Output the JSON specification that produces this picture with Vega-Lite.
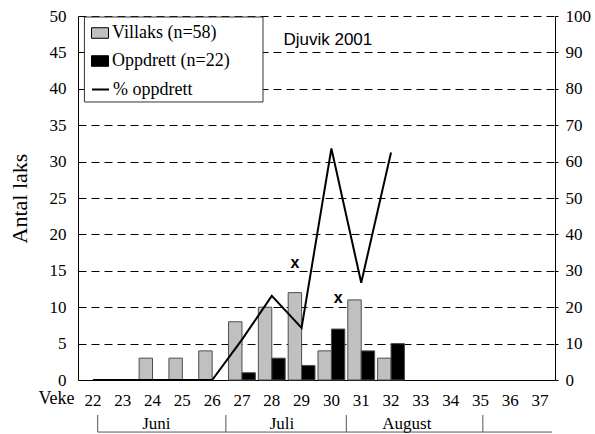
{
  "$schema": "https://vega.github.io/schema/vega-lite/v6.json",
  "width": 477,
  "height": 364,
  "autosize": {"type": "none"},
  "padding": {"left": 78, "top": 16, "right": 40, "bottom": 54},
  "background": "white",
  "config": {
    "font": "Liberation Serif",
    "view": {"stroke": null},
    "axis": {"labelColor": "black", "titleColor": "black", "domainColor": "black", "tickColor": "black", "titleFontWeight": "normal", "labelFont": "Liberation Serif", "titleFont": "Liberation Serif"},
    "legend": {"labelFont": "Liberation Serif", "titleFont": "Liberation Serif", "labelColor": "black", "labelFontSize": 18}
  },
  "datasets": {
    "counts": [
      {"week": 24, "series": "Villaks (n=58)", "count": 3},
      {"week": 25, "series": "Villaks (n=58)", "count": 3},
      {"week": 26, "series": "Villaks (n=58)", "count": 4},
      {"week": 27, "series": "Villaks (n=58)", "count": 8},
      {"week": 28, "series": "Villaks (n=58)", "count": 10},
      {"week": 29, "series": "Villaks (n=58)", "count": 12},
      {"week": 30, "series": "Villaks (n=58)", "count": 4},
      {"week": 31, "series": "Villaks (n=58)", "count": 11},
      {"week": 32, "series": "Villaks (n=58)", "count": 3},
      {"week": 27, "series": "Oppdrett (n=22)", "count": 1},
      {"week": 28, "series": "Oppdrett (n=22)", "count": 3},
      {"week": 29, "series": "Oppdrett (n=22)", "count": 2},
      {"week": 30, "series": "Oppdrett (n=22)", "count": 7},
      {"week": 31, "series": "Oppdrett (n=22)", "count": 4},
      {"week": 32, "series": "Oppdrett (n=22)", "count": 5}
    ],
    "share": [
      {"week": 22, "pct": 0},
      {"week": 23, "pct": 0},
      {"week": 24, "pct": 0},
      {"week": 25, "pct": 0},
      {"week": 26, "pct": 0},
      {"week": 27, "pct": 11.1},
      {"week": 28, "pct": 23.1},
      {"week": 29, "pct": 14.3},
      {"week": 30, "pct": 63.6},
      {"week": 31, "pct": 26.7},
      {"week": 32, "pct": 62.5}
    ],
    "flags": [
      {"week": 29, "series": "Villaks (n=58)", "level": 16.1},
      {"week": 30, "series": "Oppdrett (n=22)", "level": 11.2}
    ],
    "months": [
      {"month": "Juni", "mid": 24.13},
      {"month": "Juli", "mid": 28.34},
      {"month": "August", "mid": 32.53}
    ],
    "bounds": [
      {"boundary": 22.16},
      {"boundary": 26.46},
      {"boundary": 30.5},
      {"boundary": 35.08}
    ],
    "timeline": [
      {"start": 22.16, "end": 37.4}
    ],
    "site": [
      {"label": "Djuvik 2001"}
    ],
    "xlabel": [
      {"label": "Veke"}
    ]
  },
  "layer": [
    {
      "layer": [
        {
          "data": {"name": "counts"},
          "mark": {"type": "bar", "stroke": "#4d4d4d", "strokeWidth": 1},
          "encoding": {
            "x": {
              "field": "week", "type": "ordinal",
              "scale": {"domain": [22,23,24,25,26,27,28,29,30,31,32,33,34,35,36,37], "paddingInner": 0.1, "paddingOuter": 0.05},
              "axis": {"title": null, "labelAngle": 0, "tickSize": 0, "labelPadding": 12, "labelFontSize": 17, "labelFont": "Liberation Serif", "grid": false}
            },
            "xOffset": {
              "field": "series", "type": "nominal",
              "scale": {"domain": ["Villaks (n=58)", "Oppdrett (n=22)"], "paddingInner": 0, "paddingOuter": 0}
            },
            "y": {
              "field": "count", "type": "quantitative",
              "scale": {"domain": [0, 50], "nice": false},
              "axis": {"title": "Antal laks", "values": [0,5,10,15,20,25,30,35,40,45,50], "grid": true, "gridDash": [8, 5], "gridColor": "black", "gridWidth": 1, "tickSize": 0, "labelPadding": 12, "labelFontSize": 17, "labelFont": "Liberation Serif", "titleFont": "Liberation Serif", "titleFontSize": 22, "titleX": -52, "titleY": 182, "titleAngle": -90, "titleAlign": "center", "titleBaseline": "alphabetic"}
            },
            "color": {
              "field": "series", "type": "nominal",
              "scale": {"domain": ["Villaks (n=58)", "Oppdrett (n=22)"], "range": ["#c0c0c0", "#000000"]},
              "legend": {
                "orient": "none", "legendX": 13, "legendY": 8,
                "title": null, "padding": 0, "rowPadding": 10,
                "labelFontSize": 18, "labelFont": "Liberation Serif", "labelColor": "black", "labelOffset": 3, "labelLimit": 300,
                "symbolType": "M-1,-0.62H1V0.62H-1Z", "symbolSize": 289, "symbolOpacity": 1,
                "symbolStrokeColor": "#000000", "symbolStrokeWidth": 1
              }
            }
          }
        },
        {
          "data": {"name": "flags"},
          "mark": {"type": "text", "text": "x", "font": "Liberation Sans", "fontWeight": "bold", "fontSize": 16, "baseline": "middle", "align": "center", "color": "black"},
          "encoding": {
            "x": {"field": "week", "type": "ordinal", "scale": {"domain": [22,23,24,25,26,27,28,29,30,31,32,33,34,35,36,37], "paddingInner": 0.1, "paddingOuter": 0.05},
              "axis": {"title": null, "labelAngle": 0, "tickSize": 0, "labelPadding": 12, "labelFontSize": 17, "labelFont": "Liberation Serif", "grid": false}},
            "xOffset": {"field": "series", "type": "nominal", "scale": {"domain": ["Villaks (n=58)", "Oppdrett (n=22)"], "paddingInner": 0, "paddingOuter": 0}},
            "y": {"field": "level", "type": "quantitative", "scale": {"domain": [0, 50], "nice": false},
              "axis": {"title": "Antal laks", "values": [0,5,10,15,20,25,30,35,40,45,50], "grid": true, "gridDash": [8, 5], "gridColor": "black", "gridWidth": 1, "tickSize": 0, "labelPadding": 12, "labelFontSize": 17, "labelFont": "Liberation Serif", "titleFont": "Liberation Serif", "titleFontSize": 22, "titleX": -52, "titleY": 182, "titleAngle": -90, "titleAlign": "center", "titleBaseline": "alphabetic"}}
          }
        }
      ]
    },
    {
      "layer": [
        {
          "data": {"name": "site"},
          "mark": {"type": "rect", "fill": "white", "stroke": "#333333", "strokeWidth": 1},
          "encoding": {
            "x": {"datum": 21.715, "type": "quantitative", "scale": {"domain": [21.5, 37.5], "nice": false, "zero": false}, "axis": null},
            "x2": {"datum": 27.705},
            "y": {"datum": 49.86, "type": "quantitative", "scale": {"domain": [0, 50], "nice": false}, "axis": null},
            "y2": {"datum": 38.19}
          }
        },
        {
          "data": {"name": "bounds"},
          "mark": {"type": "rule", "color": "#555555", "strokeWidth": 1},
          "encoding": {
            "x": {"field": "boundary", "type": "quantitative", "scale": {"domain": [21.5, 37.5], "nice": false, "zero": false}, "axis": null},
            "y": {"datum": -4.8, "type": "quantitative", "scale": {"domain": [0, 50], "nice": false}, "axis": null},
            "y2": {"datum": -7.15}
          }
        },
        {
          "data": {"name": "timeline"},
          "mark": {"type": "rule", "color": "#555555", "strokeWidth": 1},
          "encoding": {
            "x": {"field": "start", "type": "quantitative", "scale": {"domain": [21.5, 37.5], "nice": false, "zero": false}, "axis": null},
            "x2": {"field": "end"},
            "y": {"datum": -7.15, "type": "quantitative", "scale": {"domain": [0, 50], "nice": false}, "axis": null}
          }
        },
        {
          "data": {"name": "months"},
          "mark": {"type": "text", "font": "Liberation Serif", "fontSize": 17, "baseline": "alphabetic", "align": "center", "color": "black"},
          "encoding": {
            "x": {"field": "mid", "type": "quantitative", "scale": {"domain": [21.5, 37.5], "nice": false, "zero": false}, "axis": null},
            "y": {"datum": -6.73, "type": "quantitative", "scale": {"domain": [0, 50], "nice": false}, "axis": null},
            "text": {"field": "month"}
          }
        },
        {
          "data": {"name": "xlabel"},
          "mark": {"type": "text", "font": "Liberation Serif", "fontSize": 18, "baseline": "alphabetic", "align": "center", "color": "black"},
          "encoding": {
            "x": {"datum": 20.78, "type": "quantitative", "scale": {"domain": [21.5, 37.5], "nice": false, "zero": false}, "axis": null},
            "y": {"datum": -3.3, "type": "quantitative", "scale": {"domain": [0, 50], "nice": false}, "axis": null},
            "text": {"field": "label"}
          }
        },
        {
          "data": {"name": "site"},
          "mark": {"type": "text", "font": "Liberation Sans", "fontSize": 17, "baseline": "alphabetic", "align": "center", "color": "black"},
          "encoding": {
            "x": {"datum": 29.88, "type": "quantitative", "scale": {"domain": [21.5, 37.5], "nice": false, "zero": false}, "axis": null},
            "y": {"datum": 46.0, "type": "quantitative", "scale": {"domain": [0, 50], "nice": false}, "axis": null},
            "text": {"field": "label"}
          }
        }
      ]
    },
    {
      "data": {"name": "share"},
      "mark": {"type": "line", "strokeWidth": 2},
      "encoding": {
        "x": {
          "field": "week", "type": "ordinal",
          "scale": {"domain": [22,23,24,25,26,27,28,29,30,31,32,33,34,35,36,37], "paddingInner": 0.1, "paddingOuter": 0.05},
          "axis": null
        },
        "y": {
          "field": "pct", "type": "quantitative",
          "scale": {"domain": [0, 100], "nice": false},
          "axis": {"orient": "right", "title": null, "values": [0,10,20,30,40,50,60,70,80,90,100], "grid": false, "tickSize": 3, "labelPadding": 7, "labelFontSize": 17, "labelFont": "Liberation Serif"}
        },
        "stroke": {
          "datum": "% oppdrett", "type": "nominal",
          "scale": {"domain": ["% oppdrett"], "range": ["#000000"]},
          "legend": {
            "orient": "none", "legendX": 13, "legendY": 64,
            "title": null, "padding": 0,
            "labelFontSize": 18, "labelFont": "Liberation Serif", "labelColor": "black", "labelOffset": 3, "labelLimit": 300,
            "symbolType": "stroke", "symbolSize": 289, "symbolStrokeWidth": 2, "symbolOpacity": 1
          }
        }
      }
    }
  ],
  "resolve": {"scale": {"x": "independent", "y": "independent"}}
}
